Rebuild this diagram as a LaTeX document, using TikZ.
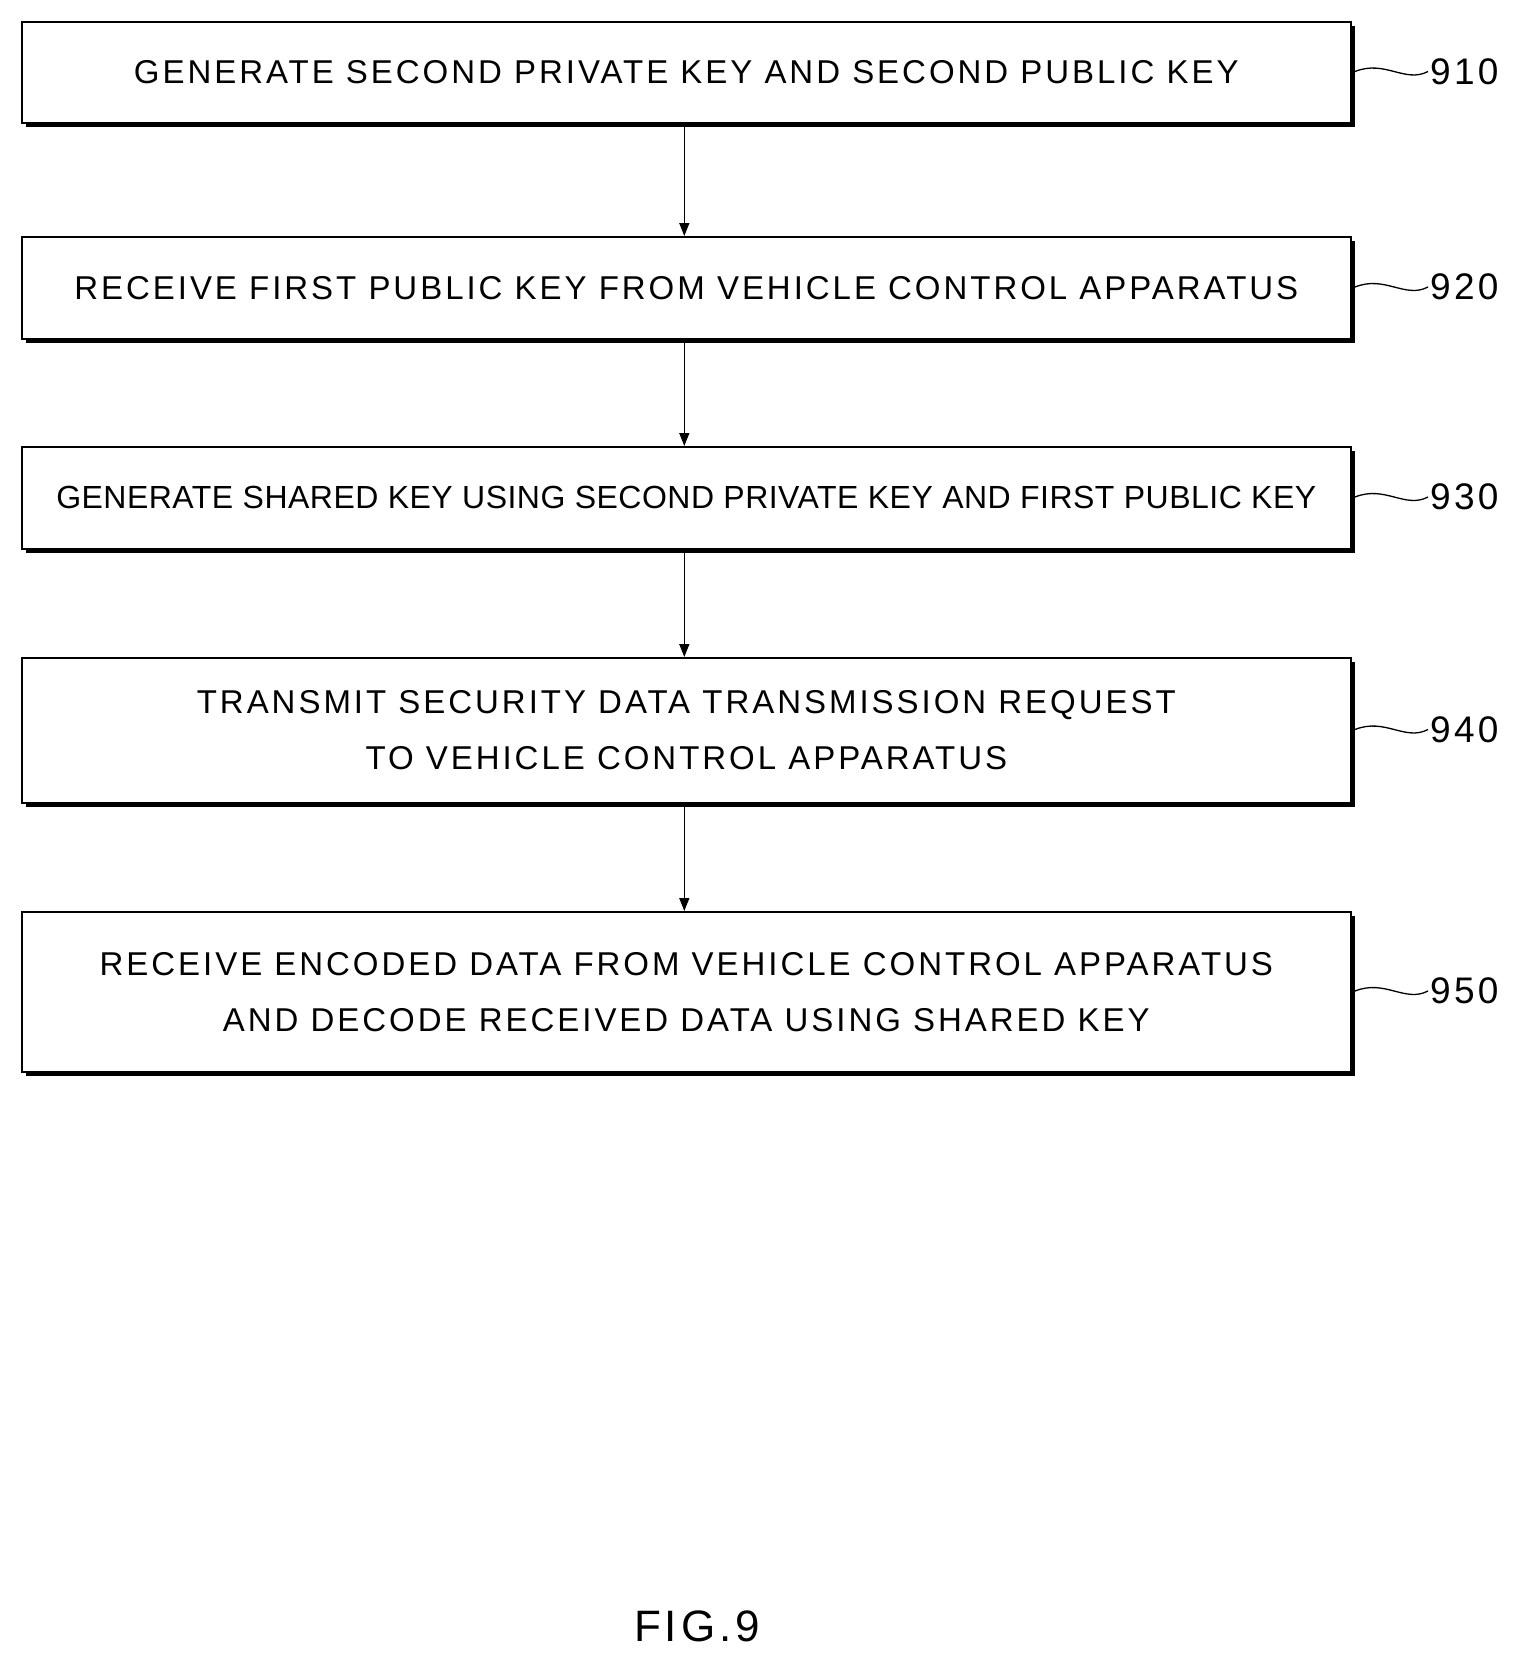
\documentclass[tikz,border=0pt]{standalone}
\usepackage{fontspec}
\setmainfont{Liberation Sans}[LetterSpace=9]
\usetikzlibrary{arrows.meta}
\begin{document}
\begin{tikzpicture}[x=1pt,y=-1pt,
  box/.style={draw,line width=1.6pt,fill=white,align=center,font=\fontsize{33}{56}\selectfont},
  lbl/.style={font=\fontsize{37}{40}\selectfont,anchor=west},
  arr/.style={-{Triangle[length=13pt,width=10pt]},line width=1.4pt}]
\useasboundingbox (0,0) rectangle (1530,1674);
\newcommand{\stepbox}[5]{%
  \fill (26,#2+5) rectangle (1355,#3+5);
  \node[box,minimum width=1329pt,minimum height={#3-#2}, anchor=north west,inner sep=0pt] (#1) at (21,#2) {#4};
  \coordinate (#1l) at (1355,{(#2+#3)/2});
  \node[lbl,inner sep=2pt] (#1n) at (1428,{(#2+#3)/2}) {#5};
  \draw[line width=1.3pt] (#1l) .. controls (1385,{(#2+#3)/2-12}) and (1405,{(#2+#3)/2+12}) .. (#1n.west);
}
\stepbox{a}{21}{122}{GENERATE SECOND PRIVATE KEY AND SECOND PUBLIC KEY}{910}
\stepbox{b}{236}{338}{RECEIVE FIRST PUBLIC KEY FROM VEHICLE CONTROL APPARATUS}{920}
\stepbox{c}{446}{548}{\fontsize{32}{56}\selectfont\addfontfeatures{LetterSpace=1.5}GENERATE SHARED KEY USING SECOND PRIVATE KEY AND FIRST PUBLIC KEY}{930}
\stepbox{d}{657}{802}{TRANSMIT SECURITY DATA TRANSMISSION REQUEST\\TO VEHICLE CONTROL APPARATUS}{940}
\stepbox{e}{911}{1071}{RECEIVE ENCODED DATA FROM VEHICLE CONTROL APPARATUS\\AND DECODE RECEIVED DATA USING SHARED KEY}{950}
\draw[arr] ([xshift=-2pt]a.south) -- ([xshift=-2pt]b.north);
\draw[arr] ([xshift=-2pt]b.south) -- ([xshift=-2pt]c.north);
\draw[arr] ([xshift=-2pt]c.south) -- ([xshift=-2pt]d.north);
\draw[arr] ([xshift=-2pt]d.south) -- ([xshift=-2pt]e.north);
\node[font=\fontsize{44}{48}\selectfont] (fig) at (697,1626) {FIG.9};
\end{tikzpicture}
\end{document}
